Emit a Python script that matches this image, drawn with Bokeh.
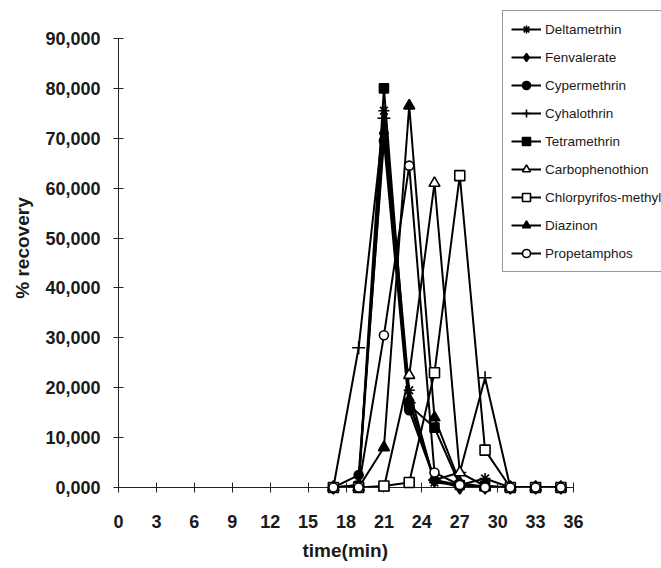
from bokeh.plotting import figure
from bokeh.models import Range1d, FixedTicker, Legend, LegendItem, Title
from bokeh.embed import file_html
from bokeh.resources import INLINE

# ---- data ----
time_min = [17, 19, 21, 23, 25, 27, 29, 31, 33, 35]
series_names = ["Deltametrhin", "Fenvalerate", "Cypermethrin", "Cyhalothrin", "Tetramethrin",
                "Carbophenothion", "Chlorpyrifos-methyl", "Diazinon", "Propetamphos"]
deltametrhin = [0, 0.5, 75.5, 19.5, 1.0, 0.5, 1.8, 0, 0, 0]
fenvalerate = [0, 0.5, 71.0, 17.5, 1.5, 0, 0, 0, 0, 0]
cypermethrin = [0, 2.5, 69.5, 15.5, 1.5, 0.5, 0, 0, 0, 0]
cyhalothrin = [0, 28.0, 74.0, 17.0, 1.5, 3.0, 22.0, 0, 0, 0]
tetramethrin = [0, 0.3, 80.0, 16.5, 12.0, 0.5, 0.3, 0, 0, 0]
carbophenothion = [0, 0, 0, 22.5, 61.0, 3.0, 0.3, 0, 0, 0]
chlorpyrifos_methyl = [0, 0, 0.3, 1.0, 23.0, 62.5, 7.5, 0, 0, 0]
diazinon = [0, 0, 8.0, 76.5, 14.0, 1.0, 0, 0, 0, 0]
propetamphos = [0, 0, 30.5, 64.5, 3.0, 0.5, 0, 0, 0, 0]

x_ticks = [0, 3, 6, 9, 12, 15, 18, 21, 24, 27, 30, 33, 36]
y_ticks = [0, 10, 20, 30, 40, 50, 60, 70, 80, 90]
y_tick_labels = ["0,000", "10,000", "20,000", "30,000", "40,000", "50,000",
                 "60,000", "70,000", "80,000", "90,000"]
x_title = "time(min)"
y_title = "% recovery"

values = [deltametrhin, fenvalerate, cypermethrin, cyhalothrin, tetramethrin,
          carbophenothion, chlorpyrifos_methyl, diazinon, propetamphos]

# marker style per series: (marker, fill, size)
styles = [("asterisk", "black", 11), ("diamond", "black", 13), ("circle", "black", 9),
          ("cross", "black", 13), ("square", "black", 9), ("triangle", "white", 11),
          ("square", "white", 10), ("triangle", "black", 11), ("circle", "white", 9)]

FONT = "Liberation Sans"

# frame spans to the canvas right/top edges so the legend can sit there;
# axes are bounded to the data extents (0..36, 0..90)
p = figure(width=661, height=568, output_backend="svg", toolbar_location=None,
           x_range=Range1d(0, 42.96), y_range=Range1d(0, 96),
           min_border_left=118, min_border_right=0, min_border_top=8, min_border_bottom=80)
p.outline_line_color = None
p.xgrid.grid_line_color = None
p.ygrid.grid_line_color = None
p.background_fill_color = "white"
p.border_fill_color = "white"

for ax in (p.xaxis[0], p.yaxis[0]):
    ax.axis_line_color = "#222222"
    ax.axis_line_width = 1
    ax.major_tick_line_color = "#222222"
    ax.major_tick_in = 5
    ax.major_tick_out = 5
    ax.minor_tick_line_color = None
    ax.major_label_text_font = FONT
    ax.major_label_text_font_style = "bold"
    ax.major_label_text_font_size = "18px"
    ax.major_label_text_color = "#1a1a1a"
    ax.axis_label_text_font = FONT
    ax.axis_label_text_font_style = "bold"
    ax.axis_label_text_font_size = "19px"
    ax.axis_label_text_color = "#1a1a1a"

p.xaxis[0].ticker = FixedTicker(ticks=x_ticks)
p.xaxis[0].bounds = (0, 36)
p.xaxis[0].major_label_standoff = 22

p.yaxis[0].ticker = FixedTicker(ticks=y_ticks)
p.yaxis[0].bounds = (0, 90)
p.yaxis[0].major_label_overrides = {t: lab for t, lab in zip(y_ticks, y_tick_labels)}
p.yaxis[0].axis_label = y_title
p.yaxis[0].major_label_standoff = 13
p.yaxis[0].axis_label_standoff = 9

# x-axis title centred under the bounded axis (0..36), not the wider frame
xt = Title(text=x_title, align="left", offset=184, standoff=15, vertical_align="bottom",
           text_font=FONT, text_font_style="bold", text_font_size="19px",
           text_color="#1a1a1a")
p.add_layout(xt, "below")

items = []
for name, ys, (mk, fill, sz) in zip(series_names, values, styles):
    lr = p.line(time_min, ys, line_color="black", line_width=2)
    sr = p.scatter(time_min, ys, marker=mk, size=sz, line_color="black",
                   fill_color=fill, line_width=1.6, level="overlay")
    items.append(LegendItem(label=name, renderers=[lr, sr]))

legend = Legend(items=items, location=(384, 215))
legend.label_text_font = FONT
legend.label_text_font_size = "13.5px"
legend.label_text_color = "#1a1a1a"
legend.glyph_width = 30
legend.glyph_height = 20
legend.label_height = 20
legend.label_standoff = 4
legend.spacing = 8
legend.padding = 8
legend.margin = 0
legend.border_line_color = "#333333"
legend.border_line_width = 1
legend.background_fill_color = "white"
legend.background_fill_alpha = 1.0
p.add_layout(legend, "center")

open("out.html", "w").write(file_html(p, INLINE))
